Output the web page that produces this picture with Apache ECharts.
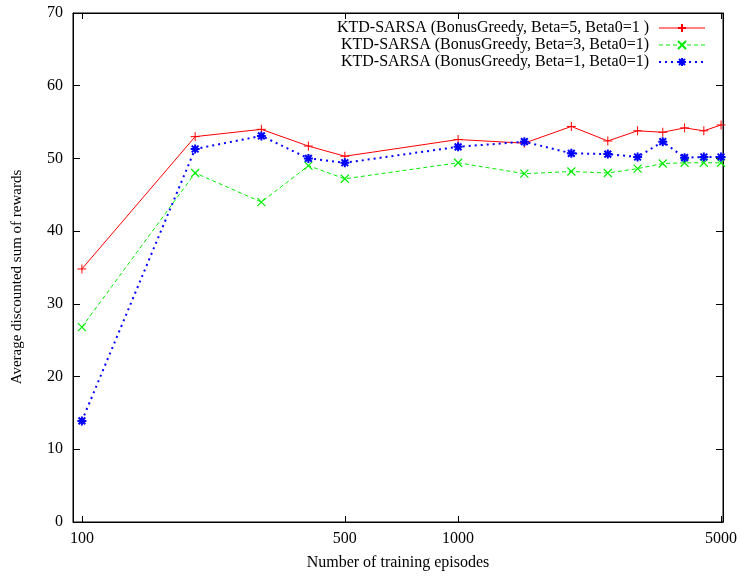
<!DOCTYPE html>
<html>
<head>
<meta charset="utf-8">
<script src="https://cdn.jsdelivr.net/npm/echarts@6/dist/echarts.min.js"></script>
<style>
  html, body { margin: 0; padding: 0; background: #fff; }
  #chart { width: 741px; height: 578px; }
</style>
</head>
<body>
<div id="chart"></div>
<script>
// Training episodes (x) and average discounted reward for each exploration setting
const episodes = [100, 200, 300, 400, 500, 1000, 1500, 2000, 2500, 3000, 3500, 4000, 4500, 5000];
const beta5 = [34.8, 53.0, 54.0, 51.7, 50.3, 52.6, 52.1, 54.4, 52.4, 53.8, 53.6, 54.2, 53.8, 54.6];
const beta3 = [26.8, 48.0, 44.0, 49.0, 47.2, 49.4, 47.9, 48.2, 48.0, 48.6, 49.3, 49.4, 49.4, 49.4];
const beta1 = [13.9, 51.3, 53.1, 50.0, 49.4, 51.6, 52.3, 50.7, 50.6, 50.2, 52.3, 50.1, 50.2, 50.2];

const seriesNames = [
  'KTD-SARSA (BonusGreedy, Beta=5, Beta0=1 )',
  'KTD-SARSA (BonusGreedy, Beta=3, Beta0=1)',
  'KTD-SARSA (BonusGreedy, Beta=1, Beta0=1)'
];
const xTickValues = [100, 500, 1000, 5000];

const FONT = '"Liberation Serif", "DejaVu Serif", serif';

const plusSym = 'path://M0,-1 L0,1 M-1,0 L1,0';
const crossSym = 'path://M-1,-1 L1,1 M-1,1 L1,-1';
const starSym = 'path://M0,-1 L0,1 M-1,0 L1,0 M-0.75,-0.75 L0.75,0.75 M-0.75,0.75 L0.75,-0.75';

function pairs(vals) {
  return episodes.map((e, i) => [e, vals[i]]);
}

const xCommon = {
  type: 'log',
  logBase: 10,
  min: 94.7,
  max: 5060,
  gridIndex: 0,
  axisLine: { show: true, onZero: false, lineStyle: { color: '#000', width: 1 } },
  splitLine: { show: false },
  minorTick: { show: false }
};
const yCommon = {
  type: 'value',
  min: 0,
  max: 70,
  interval: 10,
  gridIndex: 0,
  axisLine: { show: true, onZero: false, lineStyle: { color: '#000', width: 1 } },
  splitLine: { show: false }
};

const chart = echarts.init(document.getElementById('chart'), null, { renderer: 'canvas' });
chart.setOption({
  animation: false,
  backgroundColor: '#fff',
  textStyle: { fontFamily: FONT },
  grid: {
    left: 73, right: 18, top: 13, bottom: 56, containLabel: false,
    show: true, borderColor: '#000', borderWidth: 1, backgroundColor: 'transparent'
  },
  legend: {
    orient: 'vertical',
    right: 35,
    top: 20,
    padding: 0,
    align: 'right',
    itemWidth: 46,
    itemHeight: 10,
    itemGap: 1,
    lineStyle: { width: 1 },
    textStyle: { fontFamily: FONT, fontSize: 16, lineHeight: 16, color: '#000', padding: [0, 5, 0, 0] },
    data: [
      { name: seriesNames[0] },
      { name: seriesNames[1] },
      { name: seriesNames[2], lineStyle: { width: 2 } }
    ]
  },
  xAxis: [
    Object.assign({}, xCommon, {
      position: 'bottom',
      name: 'Number of training episodes',
      nameLocation: 'middle',
      nameGap: 33,
      nameTextStyle: { fontFamily: FONT, fontSize: 16, color: '#000' },
      axisTick: { show: true, inside: true, length: 6, customValues: xTickValues, lineStyle: { color: '#000' } },
      axisLabel: {
        show: true, customValues: xTickValues, margin: 9,
        fontFamily: FONT, fontSize: 16, color: '#000',
        formatter: v => String(Math.round(v))
      }
    }),
    Object.assign({}, xCommon, {
      position: 'top',
      axisTick: { show: true, inside: true, length: 6, customValues: xTickValues, lineStyle: { color: '#000' } },
      axisLabel: { show: false }
    })
  ],
  yAxis: [
    Object.assign({}, yCommon, {
      position: 'left',
      axisTick: { show: true, inside: true, length: 7, lineStyle: { color: '#000' } },
      axisLabel: { show: true, margin: 10, fontFamily: FONT, fontSize: 16, color: '#000' }
    }),
    Object.assign({}, yCommon, {
      position: 'right',
      axisTick: { show: true, inside: true, length: 7, lineStyle: { color: '#000' } },
      axisLabel: { show: false }
    })
  ],
  graphic: [{
    type: 'text',
    x: 17,
    y: 277,
    rotation: Math.PI / 2,
    style: {
      text: 'Average discounted sum of rewards',
      fill: '#000',
      font: '15px ' + FONT,
      align: 'center',
      verticalAlign: 'middle'
    }
  }],
  series: [
    {
      name: seriesNames[0],
      type: 'line',
      data: pairs(beta5),
      symbol: plusSym,
      symbolSize: 9,
      showAllSymbol: true,
      lineStyle: { color: '#ff0000', width: 1, type: 'solid' },
      itemStyle: { color: '#ff0000', borderColor: '#ff0000', borderWidth: 1 },
      z: 3
    },
    {
      name: seriesNames[1],
      type: 'line',
      data: pairs(beta3),
      symbol: crossSym,
      symbolSize: 8,
      showAllSymbol: true,
      lineStyle: { color: '#00ee00', width: 1, type: [4, 3] },
      itemStyle: { color: '#00ee00', borderColor: '#00ee00', borderWidth: 1.2 },
      z: 2
    },
    {
      name: seriesNames[2],
      type: 'line',
      data: pairs(beta1),
      symbol: starSym,
      symbolSize: 9,
      showAllSymbol: true,
      lineStyle: { color: '#0000ff', width: 2, type: [2, 4] },
      itemStyle: { color: '#0000ff', borderColor: '#0000ff', borderWidth: 2 },
      z: 4
    }
  ]
});
</script>
</body>
</html>
